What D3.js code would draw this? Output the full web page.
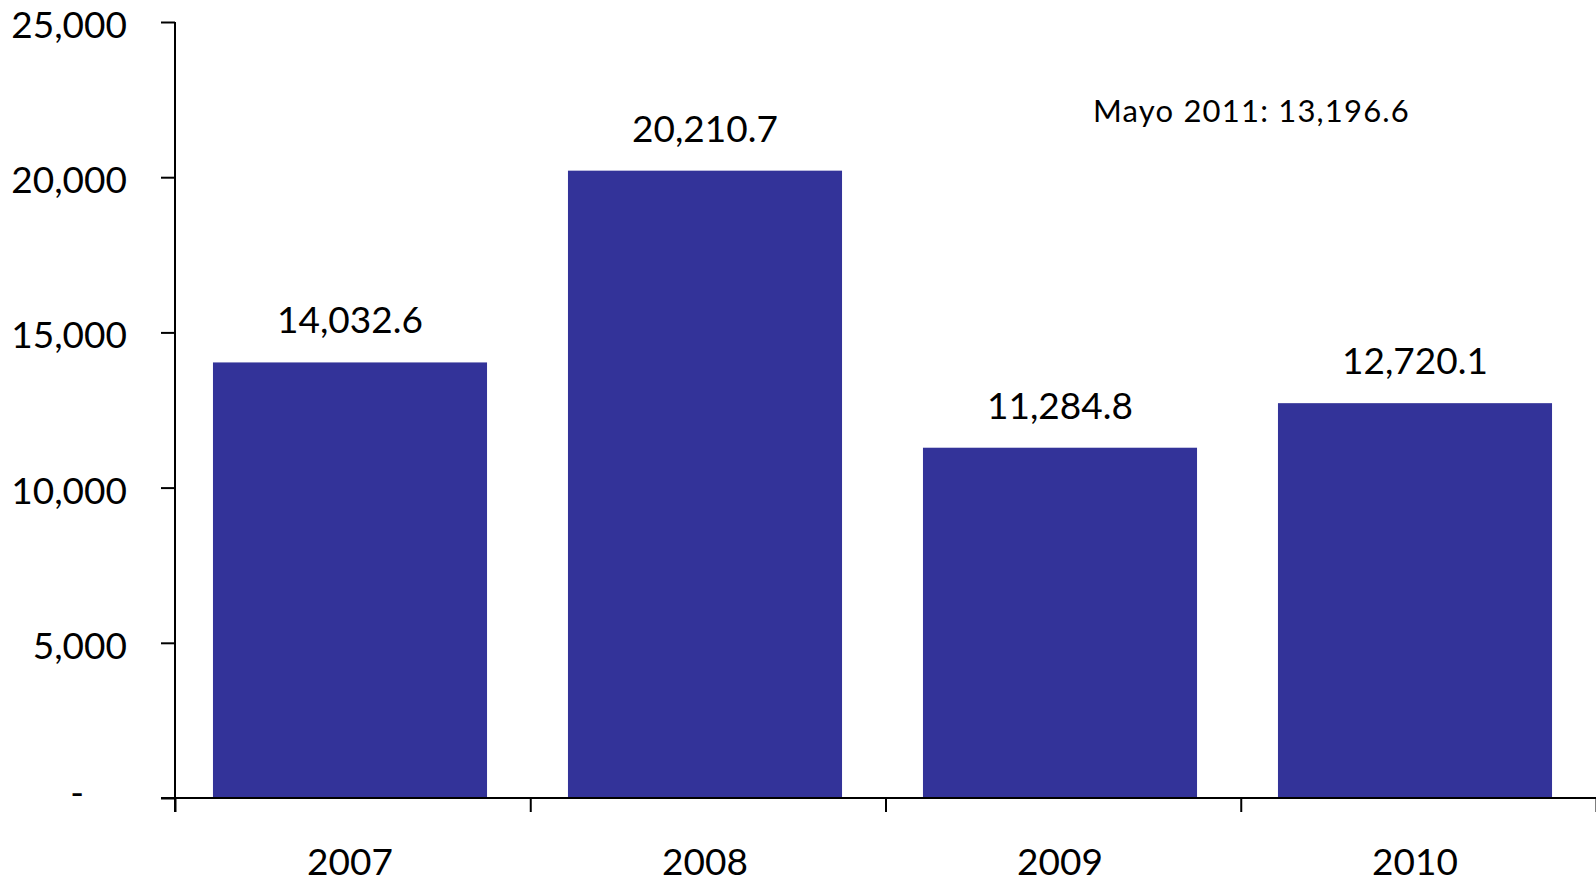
<!DOCTYPE html>
<html>
<head>
<meta charset="utf-8">
<script src="https://cdn.jsdelivr.net/npm/d3@7"></script>
<style>
  body { margin: 0; background: #fff; }
  text { font-family: Lato, "Open Sans", sans-serif; fill: #000; }
</style>
</head>
<body>
<svg id="chart"></svg>
<script>
// data
var years = ["2007", "2008", "2009", "2010"];
var values = [14032.6, 20210.7, 11284.8, 12720.1];
var yTicks = [0, 5000, 10000, 15000, 20000, 25000];
var note = "Mayo 2011: 13,196.6";

var width = 1596, height = 883;
var plotLeft = 175, plotRight = 1596, plotTop = 22, plotBottom = 798;

var svg = d3.select("#chart")
  .attr("width", width)
  .attr("height", height);

// bars sit a little left of band centres in the original
var x = d3.scaleBand()
  .domain(years)
  .range([plotLeft - 2.5, plotRight - 3.5])
  .paddingInner(0.228)
  .paddingOuter(0.114);

// band boundaries for the category ticks
var xEdge = d3.scaleLinear()
  .domain([0, years.length])
  .range([plotLeft, plotRight]);

var y = d3.scaleLinear()
  .domain([0, 25000])
  .range([plotBottom, plotTop]);

var fmt = d3.format(",");
var fmt1 = d3.format(",.1f");

// bars
svg.selectAll("rect.bar")
  .data(values)
  .enter()
  .append("rect")
  .attr("class", "bar")
  .attr("x", function(d, i) { return x(years[i]); })
  .attr("y", function(d) { return y(d); })
  .attr("width", x.bandwidth())
  .attr("height", function(d) { return plotBottom - y(d); })
  .attr("fill", "#333399");

// value labels
svg.selectAll("text.val")
  .data(values)
  .enter()
  .append("text")
  .attr("class", "val")
  .attr("x", function(d, i) { return x(years[i]) + x.bandwidth() / 2; })
  .attr("y", function(d) { return y(d) - 29; })
  .attr("text-anchor", "middle")
  .style("font-size", "37px")
  .text(function(d) { return fmt1(d); });

// y axis
var yAxis = d3.axisLeft(y)
  .tickValues(yTicks)
  .tickSize(14)
  .tickPadding(34)
  .tickFormat(function(d) { return d === 0 ? "-" : fmt(d); });

var gy = svg.append("g")
  .attr("transform", "translate(" + plotLeft + ",0)")
  .call(yAxis);
gy.select(".domain").remove();
gy.selectAll("line").attr("stroke", "#000").attr("stroke-width", 2);
gy.selectAll("text")
  .style("font-size", "37px")
  .attr("dy", "0.42em");
gy.selectAll(".tick").filter(function(d) { return d === 0; })
  .select("text")
  .attr("x", -91)
  .attr("dy", "0.2em");

// x axis boundary ticks
var xAxis = d3.axisBottom(xEdge)
  .tickValues(d3.range(years.length + 1))
  .tickSize(14)
  .tickFormat("");
var gx = svg.append("g")
  .attr("transform", "translate(0," + plotBottom + ")")
  .call(xAxis);
gx.select(".domain").remove();
gx.selectAll("line").attr("stroke", "#000").attr("stroke-width", 2);

// axis lines
svg.append("line")
  .attr("x1", plotLeft).attr("x2", plotLeft)
  .attr("y1", plotTop).attr("y2", plotBottom + 14)
  .attr("stroke", "#000").attr("stroke-width", 2);
svg.append("line")
  .attr("x1", plotLeft - 14).attr("x2", plotRight)
  .attr("y1", plotBottom).attr("y2", plotBottom)
  .attr("stroke", "#000").attr("stroke-width", 2);

// category labels
svg.selectAll("text.cat")
  .data(years)
  .enter()
  .append("text")
  .attr("class", "cat")
  .attr("x", function(d) { return x(d) + x.bandwidth() / 2; })
  .attr("y", 875)
  .attr("text-anchor", "middle")
  .style("font-size", "37px")
  .text(function(d) { return d; });

// note
svg.append("text")
  .attr("x", 1093)
  .attr("y", 122)
  .style("font-size", "31px")
  .style("letter-spacing", "1.2px")
  .text(note);
</script>
</body>
</html>
